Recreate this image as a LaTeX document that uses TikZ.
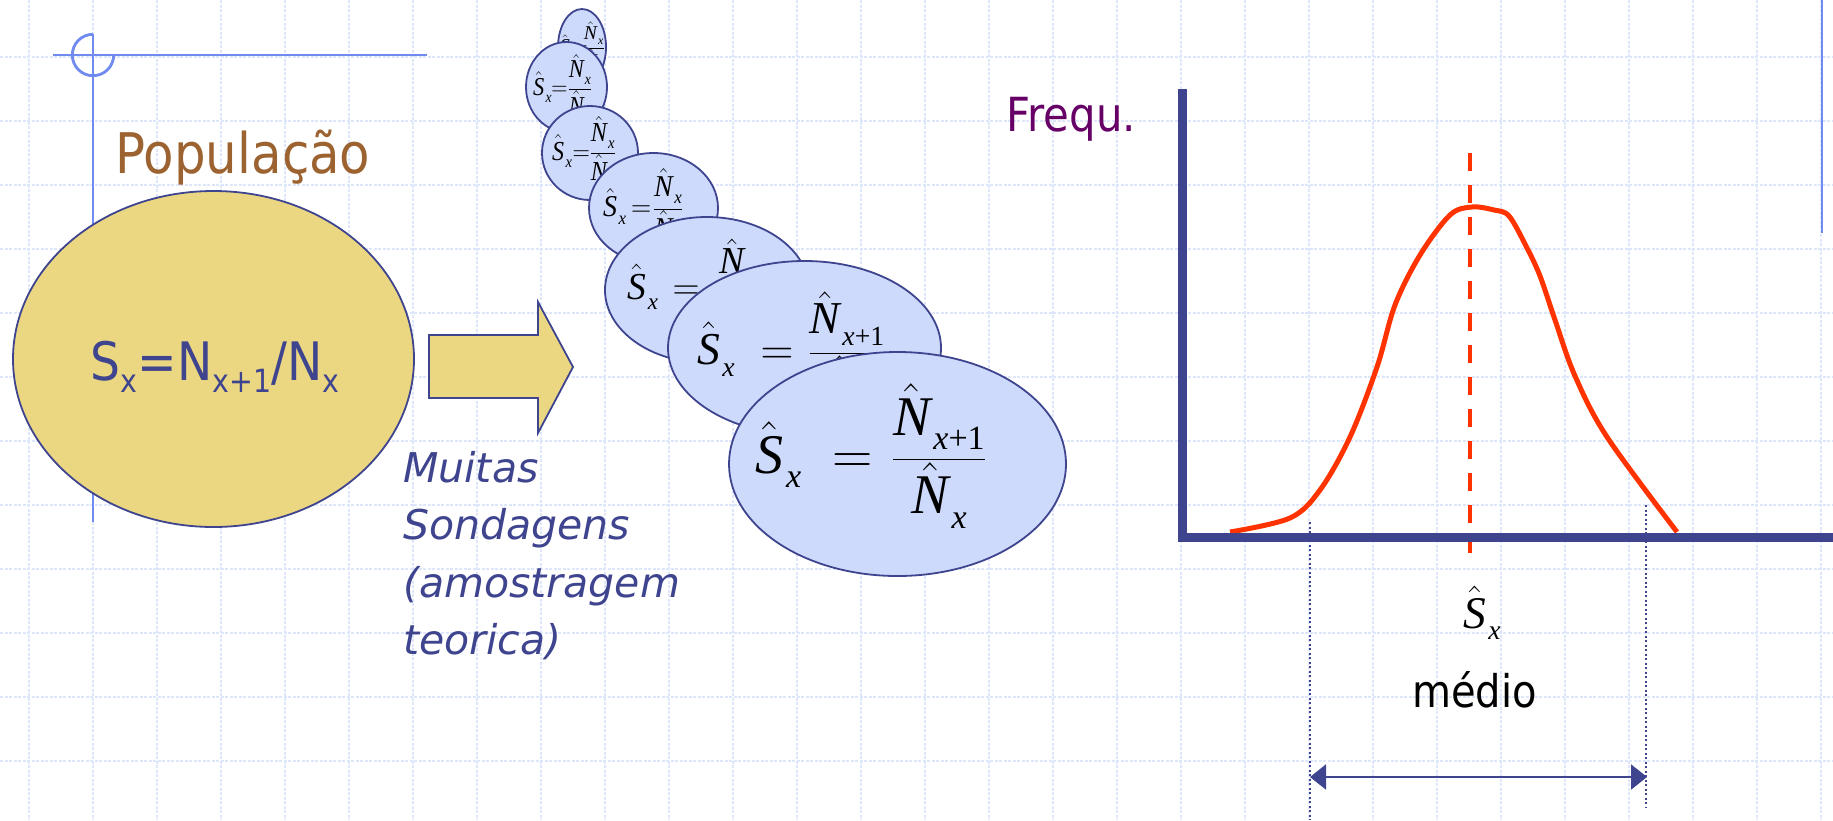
\RequirePackage{fix-cm}
\documentclass[tikz,border=0pt]{standalone}
\usepackage{amsmath}
\usepackage{graphicx}
\usepackage[no-math]{fontspec}
\usetikzlibrary{arrows.meta,positioning,shapes.geometric}
\newfontfamily\tah[FakeStretch=0.89]{DejaVu Sans}
\newfontfamily\verd{DejaVu Sans}
\newfontfamily\tnr{Liberation Serif}
\DeclareMathSizes{56}{56}{34}{26}

\definecolor{gridc}{RGB}{222,230,252}
\definecolor{decoc}{RGB}{112,138,240}
\definecolor{inkc}{RGB}{62,68,142}
\definecolor{sandc}{RGB}{235,215,130}
\definecolor{skyc}{RGB}{205,218,252}
\definecolor{brownc}{RGB}{156,99,49}
\definecolor{plumc}{RGB}{102,0,102}
\definecolor{redc}{RGB}{255,51,0}

% hatted estimator in Times italic
\newcommand\tv[1]{\text{\tnr\itshape #1}}
\newcommand\hv[1]{\hat{\tv{#1}}}
\newcommand\lowsub[1]{_{\text{\kern3pt\raisebox{-6pt}{\tnr #1}}}}
\newcommand\sratio[3]{\fontsize{56}{60}\selectfont
  $\hv{S}\lowsub{\itshape x}\kern#2\mkern5mu=\mkern1mu\kern#3\dfrac{\hv{N}\lowsub{#1}}{\hv{N}\lowsub{\itshape x}}$}
\newcommand\lowtx[1]{\raisebox{-12pt}{\fontsize{32}{32}\selectfont #1}}

\begin{document}
\begin{tikzpicture}[
  x=1pt, y=-1pt,
  gridln/.style={gridc, line width=1.8pt, dash pattern=on 3pt off 1.5pt},
  deco/.style={decoc, line width=2.8pt},
  popl/.style={ellipse, draw=inkc, fill=sandc, line width=1.8pt,
    minimum width=401pt, minimum height=336pt, inner sep=0pt},
  smp/.style={ellipse, draw=inkc, fill=skyc, line width=1.8pt, inner sep=0pt},
  meanln/.style={redc, line width=4.5pt, dash pattern=on 18pt off 14pt},
  dotln/.style={inkc, line width=2pt, dash pattern=on 2pt off 2.5pt},
  axisln/.style={inkc, line width=9pt},
  spanln/.style={inkc, line width=2pt,
    {Triangle[length=16pt,width=25pt]}-{Triangle[length=16pt,width=25pt]}}
]
\useasboundingbox (0,0) rectangle (1833,820);

% background grid
\foreach \gx in {0,...,28}
  \draw[gridln] ({29+64*\gx},0) -- ({29+64*\gx},820);
\foreach \gy in {0,...,11}
  \draw[gridln] (0,{57+64*\gy}) -- (1833,{57+64*\gy});

% corner marks
\draw[deco] (53,55) -- (427,55);
\draw[deco] (93,34) -- (93,522);
\draw[deco] (113.7,55) arc[start angle=0, end angle=270, radius=20.7];
\draw[deco] (1822,0) -- (1822,233);

% population
\node[anchor=base west, brownc, font=\tah\fontsize{56}{60}\selectfont] (popt) at (112,173) {População};
\node[popl] (pop) at (213.5,359) {};
\node[anchor=base, inner sep=0pt, inkc, font=\tah\fontsize{53}{53}\selectfont] (popf) at (215,380)
  {S\lowtx{x}=N\lowtx{x+1}/N\lowtx{x}};

\draw[inkc, fill=sandc, line width=1.8pt] (429,335) -- (538,335) -- (538,302) -- (573,367)
  -- (538,433) -- (538,398) -- (429,398) -- cycle;

\node[anchor=north west, inner sep=0pt, align=left, inkc,
  font=\verd\itshape\fontsize{41}{57.5}\selectfont] (note) at (403,451)
  {Muitas\\Sondagens\\(amostragem\\teorica)};

% samples, back to front
\foreach \i/\cx/\cy/\rx/\ry/\sx/\sy/\lx/\by/\nsub/\ka/\kb in {
  7/582/47/24/38/0.35/0.35/560/52.9/{\itshape x}/-40pt/-30pt,
  6/566.5/87/40.5/45/0.40/0.46/533/95.4/{\itshape x}/-32pt/-17pt,
  5/590/153/48/47/0.43/0.49/552/160/{\itshape x}/-30pt/-18pt,
  4/653.5/208/64.5/55/0.5/0.54/603/216.6/{\itshape x}/-22pt/-14pt,
  3/707/290/102/73/0.67/0.68/627/299.5/{{\itshape x}+1}/-10pt/10pt,
  2/804.5/348/136.5/87/0.815/0.815/697/364.4/{{\itshape x}+1}/0pt/0pt,
  1/897.5/464/168.5/112/1/1/755/473/{{\itshape x}+1}/0pt/0pt}
{
  \node[smp, minimum width={2*\rx}, minimum height={2*\ry}] (s\i) at (\cx,\cy) {};
  \begin{scope}
    \clip (\cx,\cy) ellipse[x radius=\rx-0.9, y radius=\ry-0.9];
    \node[anchor=base west, inner sep=0pt] (f\i) at (\lx,\by)
      {\scalebox{\sx}[\sy]{\sratio{\nsub}{\ka}{\kb}}};
  \end{scope}
}

% distribution
\node[anchor=base west, plumc, font=\tah\fontsize{47}{47}\selectfont] (frq) at (1003,131) {Frequ.};
\coordinate (mtop) at (1470,153);
\coordinate (mbot) at (1470,553);
\coordinate (lo1) at (1310,522);
\coordinate (lo2) at (1310,820);
\coordinate (hi1) at (1646,505);
\coordinate (hi2) at (1646,807);
\draw[meanln] (mtop) -- (mbot);
\draw[dotln] (lo1) -- (lo2);
\draw[dotln] (hi1) -- (hi2);
\draw[redc, line width=5pt] plot[smooth, tension=0.55] coordinates {
  (1230,532) (1290,518) (1320,490) (1350,437) (1377,367) (1395,305) (1420,255)
  (1450,215) (1472,207) (1494,210) (1509,216) (1526,246) (1540,276) (1555,320)
  (1575,376) (1607,437) (1677,532)};
\coordinate (org) at (1182.5,537.5);
\draw[axisln] (1182.5,89) -- (org) -- (1833,537.5);

\coordinate (lo) at (1310,777);
\coordinate (hi) at (1647,777);
\draw[spanln] (lo) -- (hi);

\node[anchor=base west, inner sep=0pt] (shat) at (1463,628)
  {\scalebox{0.81}{\fontsize{56}{60}\selectfont$\hv{S}\lowsub{\itshape x}$}};
\node[anchor=base, font=\tah\fontsize{45}{45}\selectfont] (med) at (1474.5,707) {médio};
\end{tikzpicture}
\end{document}
